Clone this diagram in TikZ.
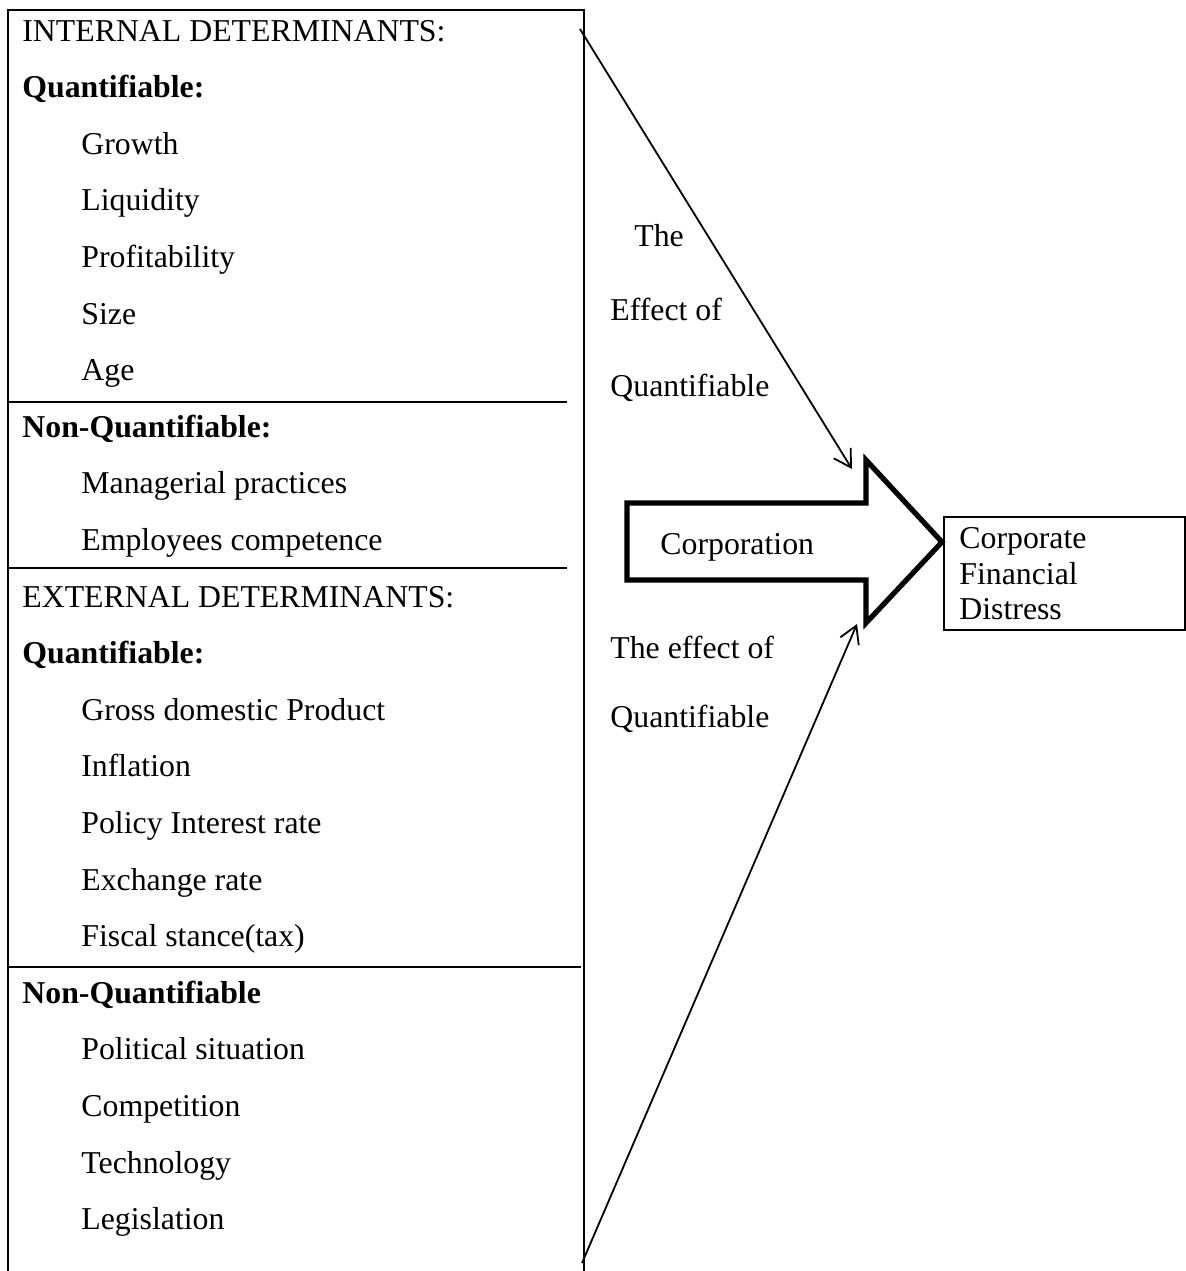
\documentclass[tikz,border=0pt]{standalone}
\usepackage{fontspec}
\setmainfont{Liberation Serif}
\usetikzlibrary{arrows.meta}
\begin{document}
\begin{tikzpicture}[x=0.5pt,y=-0.5pt,
  txt/.style={anchor=base west, inner sep=0pt, font=\fontsize{15.9}{18}\selectfont},
  hdr/.style={anchor=base west, inner sep=0pt, font=\fontsize{15.9}{18}\selectfont\bfseries},
  rule/.style={line width=1.1pt},
  conn/.style={line width=0.9pt, -{Straight Barb[length=8.5pt,width=10pt,line width=0.9pt]}},
  block/.style={line width=2.6pt, line join=miter}]
\useasboundingbox (0,0) rectangle (1186,1271);

% left panel
\draw[rule] (8,1280) -- (8,10) -- (584,10) -- (584,1280);
\draw[rule] (8,402) -- (567,402);
\draw[rule] (8,568) -- (567,568);
\draw[rule] (8,967) -- (581,967);

\node[txt] (l0) at (22,41) {INTERNAL DETERMINANTS:};
\node[hdr] (l1) at (22,97.6) {Quantifiable:};
\node[txt] (l2) at (81,154.2) {Growth};
\node[txt] (l3) at (81,210.8) {Liquidity};
\node[txt] (l4) at (81,267.4) {Profitability};
\node[txt] (l5) at (81,324) {Size};
\node[txt] (l6) at (81,380.6) {Age};
\node[hdr] (l7) at (22,437.2) {Non-Quantifiable:};
\node[txt] (l8) at (81,493.8) {Managerial practices};
\node[txt] (l9) at (81,550.4) {Employees competence};
\node[txt] (l10) at (22,607) {EXTERNAL DETERMINANTS:};
\node[hdr] (l11) at (22,663.6) {Quantifiable:};
\node[txt] (l12) at (81,720.2) {Gross domestic Product};
\node[txt] (l13) at (81,776.8) {Inflation};
\node[txt] (l14) at (81,833.4) {Policy Interest rate};
\node[txt] (l15) at (81,890) {Exchange rate};
\node[txt] (l16) at (81,946.6) {Fiscal stance(tax)};
\node[hdr] (l17) at (22,1003.2) {Non-Quantifiable};
\node[txt] (l18) at (81,1059.8) {Political situation};
\node[txt] (l19) at (81,1116.4) {Competition};
\node[txt] (l20) at (81,1173) {Technology};
\node[txt] (l21) at (81,1229.6) {Legislation};

% middle labels
\node[txt] (m1) at (634,246) {The};
\node[txt] (m2) at (610,320) {Effect of};
\node[txt] (m3) at (610,396) {Quantifiable};
\node[txt] (m4) at (610,658) {The effect of};
\node[txt] (m5) at (610,727) {Quantifiable};

% block arrow
\draw[block] (627,503) -- (866,503) -- (866,460) -- (942,542) -- (866,623) -- (866,580) -- (627,580) -- cycle;
\node[txt] (corp) at (660,554) {Corporation};
\coordinate (t1) at (852,469);
\coordinate (t2) at (857,624);

% result box
\node[draw, line width=1pt, minimum width=120.5pt, minimum height=56.5pt, inner sep=0pt, anchor=north west] (cfd) at (943,516) {};
\node[txt] (c1) at (959,548) {Corporate};
\node[txt] (c2) at (959,584) {Financial};
\node[txt] (c3) at (959,619) {Distress};

% connectors
\coordinate (s1) at (580,29);
\coordinate (s2) at (582,1263);
\draw[conn] (s1) -- (t1);
\draw[conn] (s2) -- (t2);
\end{tikzpicture}
\end{document}
